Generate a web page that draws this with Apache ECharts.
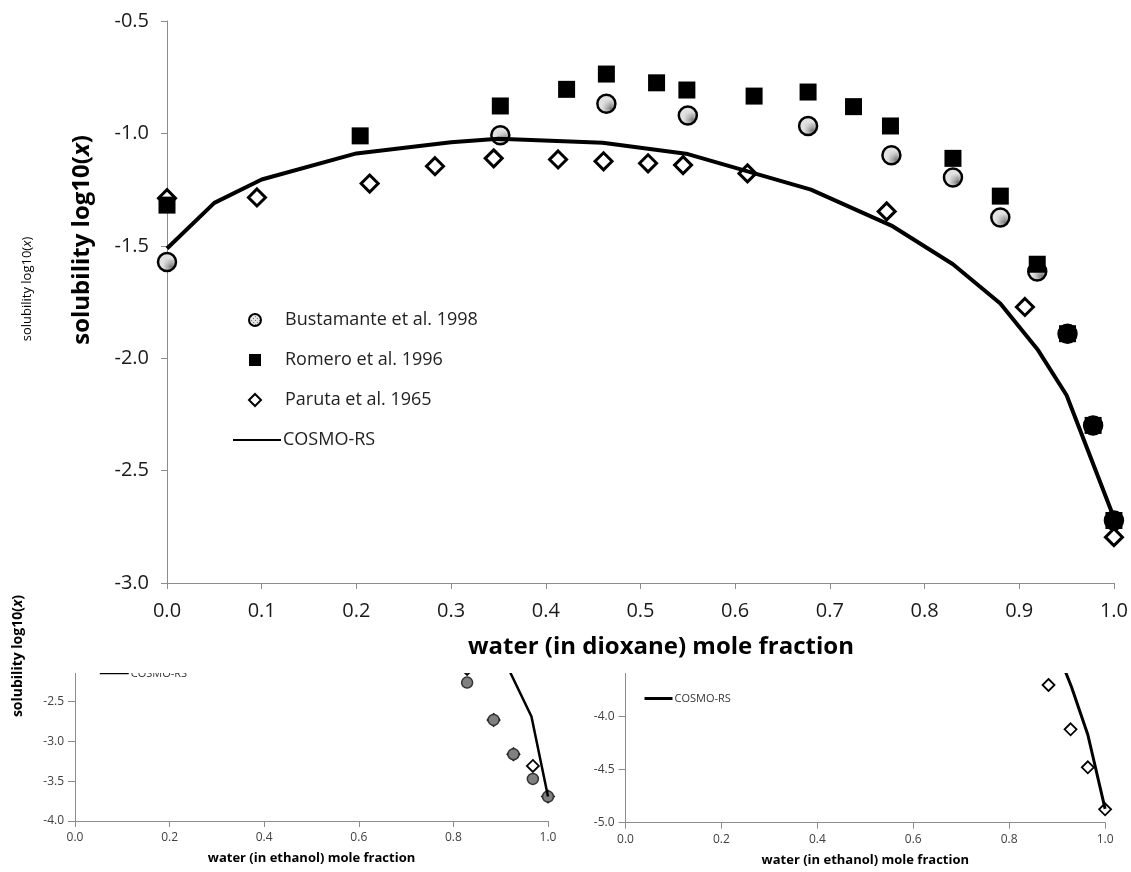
<!DOCTYPE html>
<html>
<head>
<meta charset="utf-8">
<script src="https://cdn.jsdelivr.net/npm/echarts@6/dist/echarts.min.js"></script>
<style>
html, body { margin: 0; padding: 0; background: #fff; }
#main { position: absolute; left: 0; top: 0; width: 1131px; height: 872px; z-index: 2; }
#subClip { position: absolute; left: 0; top: 673px; width: 1131px; height: 199px; overflow: hidden; z-index: 1; }
#sub { position: absolute; left: 0; top: -60px; width: 1131px; height: 259px; }
</style>
</head>
<body>
<div id="subClip"><div id="sub"></div></div>
<div id="main"></div>
<script>
// ---------------- data ----------------
// main panel: water in dioxane
var bustamante = [[0, -1.572], [0.352, -1.008], [0.464, -0.868], [0.550, -0.920], [0.677, -0.967],
    [0.765, -1.097], [0.830, -1.196], [0.880, -1.374], [0.919, -1.614], [0.951, -1.891],
    [0.978, -2.299], [1.0, -2.722]];
var romero = [[0, -1.319], [0.204, -1.011], [0.352, -0.878], [0.422, -0.804], [0.464, -0.736],
    [0.517, -0.775], [0.549, -0.807], [0.620, -0.834], [0.677, -0.816], [0.725, -0.881],
    [0.764, -0.967], [0.830, -1.111], [0.880, -1.279], [0.919, -1.582], [0.951, -1.891],
    [0.978, -2.299], [1.0, -2.722]];
var paruta = [[0, -1.288], [0.095, -1.285], [0.214, -1.223], [0.283, -1.146], [0.345, -1.111],
    [0.413, -1.116], [0.461, -1.124], [0.508, -1.133], [0.545, -1.141], [0.613, -1.178],
    [0.760, -1.347], [0.906, -1.772], [1.0, -2.796]];
var cosmoMain = [[0, -1.512], [0.05, -1.309], [0.1, -1.205], [0.2, -1.089], [0.3, -1.039],
    [0.35, -1.024], [0.46, -1.042], [0.55, -1.092], [0.68, -1.250], [0.765, -1.410],
    [0.83, -1.582], [0.88, -1.757], [0.92, -1.965], [0.95, -2.165], [1.0, -2.710]];

// lower left panel: water in ethanol
var leftCircles = [[0.829, -2.261], [0.885, -2.730], [0.927, -3.161], [0.968, -3.471], [1.0, -3.693]];
var leftDiamonds = [[0.829, -2.089], [0.885, -2.730], [0.927, -3.161], [0.968, -3.308], [1.0, -3.693]];
var cosmoLeft = [[0.88, -1.650], [0.921, -2.143], [0.965, -2.688], [1.0, -3.693]];

// lower right panel: water in ethanol
var rightDiamonds = [[0.882, -3.701], [0.928, -4.119], [0.964, -4.477], [1.0, -4.874]];
var cosmoRight = [[0.88, -3.150], [0.93, -3.720], [0.964, -4.170], [1.0, -4.870]];

var legendNames = ['Bustamante et al. 1998', 'Romero et al. 1996', 'Paruta et al. 1965'];

// ---------------- styles ----------------
var FONT = '"Open Sans", "Noto Sans", sans-serif';
var AXIS_GREY = '#8c8c8c';
var NO_DOT = { color: 'rgba(0,0,0,0)', borderColor: 'rgba(0,0,0,0)', borderWidth: 0 };

// dotted grey fill of the Bustamante circles
var dots = document.createElement('canvas');
dots.width = 4; dots.height = 4;
var ctx = dots.getContext('2d');
ctx.fillStyle = '#e2e2e2'; ctx.fillRect(0, 0, 4, 4);
ctx.fillStyle = '#777'; ctx.fillRect(0, 0, 1, 1); ctx.fillRect(2, 2, 1, 1);
var dotFill = { image: dots, repeat: 'repeat' };

function oneDecimal(v) { return v.toFixed(1); }

function valueAxis(opt) {
    return Object.assign({
        type: 'value',
        axisLine: { show: true, lineStyle: { color: AXIS_GREY, width: 1 } },
        axisTick: { show: true, length: 6, lineStyle: { color: AXIS_GREY } },
        splitLine: { show: false },
        axisLabel: { formatter: oneDecimal, fontSize: 20, color: '#1a1a1a', fontFamily: FONT, margin: 18 }
    }, opt);
}

// ---------------- main chart ----------------
var main = echarts.init(document.getElementById('main'));

main.setOption({
    animation: false,
    grid: { left: 167, top: 21, width: 947, height: 562 },
    xAxis: valueAxis({ min: 0, max: 1, interval: 0.1 }),
    yAxis: valueAxis({ min: -3, max: -0.5, interval: 0.5 }),
    legend: [
        {
            orient: 'vertical', left: 243, top: 305,
            itemWidth: 12, itemHeight: 12, itemGap: 20,
            selectedMode: false,
            textStyle: { fontSize: 18, color: '#222', fontFamily: FONT, lineHeight: 20, padding: [0, 0, 0, 19] },
            data: legendNames
        },
        {
            left: 227, top: 425,
            itemWidth: 48, itemHeight: 12,
            selectedMode: false,
            itemStyle: NO_DOT,
            textStyle: { fontSize: 18, color: '#222', fontFamily: FONT, lineHeight: 20, padding: [0, 0, 0, -3] },
            data: ['COSMO-RS']
        }
    ],
    series: [
        {
            name: 'COSMO-RS', type: 'line', data: cosmoMain,
            symbol: 'none', lineStyle: { color: '#000', width: 4 }
        },
        {
            name: 'Paruta et al. 1965', type: 'scatter', data: paruta,
            symbol: 'diamond', symbolSize: 17,
            itemStyle: { color: '#fff', borderColor: '#000', borderWidth: 3, opacity: 1 }
        },
        {
            name: 'Bustamante et al. 1998', type: 'scatter', data: bustamante,
            symbol: 'circle', symbolSize: 18,
            itemStyle: { color: dotFill, borderColor: '#000', borderWidth: 2.5, opacity: 1 }
        },
        {
            name: 'Romero et al. 1996', type: 'scatter', data: romero,
            symbol: 'rect', symbolSize: 17,
            itemStyle: { color: '#000', opacity: 1 }
        }
    ],
    graphic: [
        {
            type: 'text', x: 82, y: 240, rotation: Math.PI / 2,
            style: {
                text: 'solubility log10({i|x})', fontSize: 24, fontWeight: 'bold', fontFamily: FONT,
                fill: '#000', align: 'center', verticalAlign: 'middle',
                rich: { i: { fontSize: 24, fontWeight: 'bold', fontStyle: 'italic', fontFamily: FONT, fill: '#000' } }
            }
        },
        {
            type: 'text', x: 27, y: 289, rotation: Math.PI / 2,
            style: {
                text: 'solubility log10({i|x})', fontSize: 13, fontFamily: FONT,
                fill: '#000', align: 'center', verticalAlign: 'middle',
                rich: { i: { fontSize: 13, fontStyle: 'italic', fontFamily: FONT, fill: '#000' } }
            }
        },
        {
            type: 'text', x: 661, y: 647,
            style: {
                text: 'water (in dioxane) mole fraction', fontSize: 24, fontWeight: 'bold', fontFamily: FONT,
                fill: '#000', align: 'center', verticalAlign: 'middle'
            }
        },
        {
            type: 'text', x: 18, y: 656, rotation: Math.PI / 2,
            style: {
                text: 'solubility log10({i|x})', fontSize: 14, fontWeight: 'bold', fontFamily: FONT,
                fill: '#000', align: 'center', verticalAlign: 'middle',
                rich: { i: { fontSize: 14, fontWeight: 'bold', fontStyle: 'italic', fontFamily: FONT, fill: '#000' } }
            }
        }
    ]
});

// ---------------- lower panels (partly hidden under the main one) ----------------
var sub = echarts.init(document.getElementById('sub'));

function subAxisLabel() {
    return { formatter: oneDecimal, fontSize: 12, color: '#404040', fontFamily: FONT, margin: 11 };
}
function subX(gridIndex) {
    return valueAxis({
        gridIndex: gridIndex, min: 0, max: 1, interval: 0.2,
        axisLabel: subAxisLabel(),
        name: 'water (in ethanol) mole fraction', nameLocation: 'middle', nameGap: 31,
        nameTextStyle: { fontSize: 13, fontWeight: 'bold', color: '#000', fontFamily: FONT }
    });
}
function subY(gridIndex, min, max) {
    return valueAxis({
        gridIndex: gridIndex, min: min, max: max, interval: 0.5,
        axisLabel: subAxisLabel(),
        axisTick: { show: true, length: 7, lineStyle: { color: AXIS_GREY } }
    });
}

sub.setOption({
    animation: false,
    grid: [
        { left: 75, top: 48.8, width: 473, height: 159.2 },
        { left: 625.5, top: 50.7, width: 479.6, height: 159 }
    ],
    xAxis: [subX(0), subX(1)],
    yAxis: [subY(0, -4, -2), subY(1, -5, -3.5)],
    legend: [
        {
            left: 94, top: 50, itemWidth: 29, itemHeight: 8, selectedMode: false,
            lineStyle: { width: 1.5 }, itemStyle: NO_DOT,
            textStyle: { fontSize: 11, color: '#333', fontFamily: FONT, padding: [0, 0, 0, -3] },
            data: ['COSMO-RS']
        },
        {
            left: 638, top: 75, itemWidth: 28, itemHeight: 8, selectedMode: false,
            lineStyle: { width: 3 }, itemStyle: NO_DOT,
            textStyle: { fontSize: 11, color: '#333', fontFamily: FONT, padding: [0, 0, 0, -3] },
            data: ['COSMO-RS']
        }
    ],
    series: [
        {
            name: 'COSMO-RS', type: 'line', xAxisIndex: 0, yAxisIndex: 0, data: cosmoLeft,
            symbol: 'none', lineStyle: { color: '#000', width: 2.5 }
        },
        {
            name: 'left diamonds', type: 'scatter', xAxisIndex: 0, yAxisIndex: 0, data: leftDiamonds,
            symbol: 'diamond', symbolSize: 12,
            itemStyle: { color: '#fff', borderColor: '#000', borderWidth: 1.8, opacity: 1 }
        },
        {
            name: 'left circles', type: 'scatter', xAxisIndex: 0, yAxisIndex: 0, data: leftCircles,
            symbol: 'circle', symbolSize: 11,
            itemStyle: { color: '#808080', borderColor: '#333', borderWidth: 1.5, opacity: 1 }
        },
        {
            name: 'COSMO-RS', type: 'line', xAxisIndex: 1, yAxisIndex: 1, data: cosmoRight,
            symbol: 'none', lineStyle: { color: '#000', width: 3 }
        },
        {
            name: 'right diamonds', type: 'scatter', xAxisIndex: 1, yAxisIndex: 1, data: rightDiamonds,
            symbol: 'diamond', symbolSize: 12,
            itemStyle: { color: '#fff', borderColor: '#000', borderWidth: 1.8, opacity: 1 }
        }
    ]
});
</script>
</body>
</html>
